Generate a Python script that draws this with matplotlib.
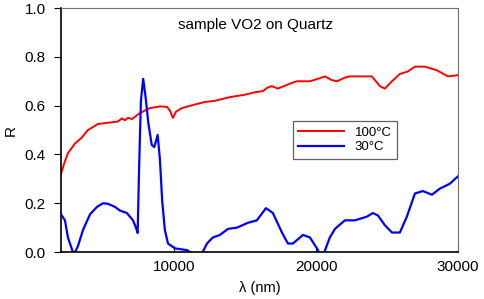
import matplotlib
matplotlib.use('Agg')
import matplotlib.pyplot as plt

plt.rcParams['font.family'] = ['Liberation Sans', 'DejaVu Sans']

# reflectance of the hot (100 C) sample
wl_hot = [2000, 2210, 2490, 2990, 3480, 3900, 4610, 5310, 6020, 6300, 6510, 6730,
          7010, 7570, 8280, 8980, 9480, 9690, 9900, 10110, 10530, 11450, 12160,
          12860, 13920, 14980, 15680, 16250, 16600, 16880, 17300, 18150, 18640,
          19560, 20130, 20620, 21110, 21470, 22030, 22380, 23930, 24220, 24500,
          24850, 25350, 25910, 26470, 26970, 27670, 28520, 29300, 30000]
r_hot = [0.32, 0.36, 0.405, 0.445, 0.47, 0.50, 0.525, 0.53, 0.535, 0.548, 0.54, 0.55,
         0.545, 0.57, 0.59, 0.597, 0.595, 0.58, 0.55, 0.575, 0.59, 0.605, 0.615,
         0.62, 0.635, 0.645, 0.655, 0.66, 0.675, 0.68, 0.67, 0.69, 0.70,
         0.70, 0.71, 0.72, 0.705, 0.70, 0.715, 0.72, 0.72, 0.70, 0.68,
         0.67, 0.70, 0.73, 0.74, 0.76, 0.76, 0.745, 0.72, 0.725]

# reflectance of the cold (30 C) sample
wl_cold = [2000, 2280, 2490, 2780, 2920, 3200, 3550, 4050, 4540, 4960, 5310, 5810,
           6160, 6650, 7080, 7290, 7410, 7500, 7640, 7800, 7970, 8160, 8400, 8580,
           8820, 8980, 9140, 9330, 9550, 10040, 10890, 11100, 11520, 11950, 12300,
           12720, 13210, 13780, 14410, 15190, 15820, 16460, 16950, 17590, 18010,
           18360, 19070, 19560, 20060, 20270, 20550, 20970, 21330, 22030, 22740,
           23580, 24000, 24360, 24850, 25350, 25910, 26400, 26970, 27530, 28170,
           28730, 29430, 30000]
r_cold = [0.155, 0.13, 0.06, 0.01, -0.01, 0.025, 0.09, 0.155, 0.185, 0.20, 0.198, 0.185,
          0.17, 0.16, 0.13, 0.10, 0.078, 0.32, 0.62, 0.71, 0.635, 0.53, 0.44, 0.43,
          0.48, 0.38, 0.21, 0.09, 0.035, 0.015, 0.008, 0.0, -0.01, -0.005, 0.035,
          0.06, 0.07, 0.095, 0.10, 0.12, 0.13, 0.18, 0.16, 0.08, 0.035,
          0.035, 0.07, 0.06, 0.015, -0.01, -0.005, 0.06, 0.095, 0.13, 0.13,
          0.145, 0.16, 0.15, 0.11, 0.08, 0.08, 0.145, 0.24, 0.25, 0.235,
          0.26, 0.28, 0.31]

fig = plt.figure(figsize=(4.84, 2.99), dpi=100)
ax = fig.add_axes([0.126, 0.157, 0.82, 0.816])

ax.plot(wl_hot, r_hot, color='#ff0000', lw=1.4, label='100\u00b0C')
ax.plot(wl_cold, r_cold, color='#0000ff', lw=1.6, label='30\u00b0C')

ax.set_xlim(2000, 30000)
ax.set_ylim(0, 1.0)
ax.set_xticks([10000, 20000, 30000])
ax.set_yticks([0.0, 0.2, 0.4, 0.6, 0.8, 1.0])
ax.set_yticklabels(['0.0', '0.2', '0.4', '0.6', '0.8', '1.0'])
ax.tick_params(axis='x', direction='in', length=4, labelsize=11, pad=6)
ax.tick_params(axis='y', direction='out', length=5, labelsize=11, pad=6)

for s in ['left', 'bottom']:
    ax.spines[s].set_color('black')
    ax.spines[s].set_linewidth(1.2)
for s in ['top', 'right']:
    ax.spines[s].set_color('#707070')
    ax.spines[s].set_linewidth(0.8)

ax.set_xlabel('\u03bb (nm)', fontsize=10.5, labelpad=5)
ax.set_ylabel('R', fontsize=11, labelpad=5)
ax.text(0.49, 0.93, 'sample VO2 on Quartz', transform=ax.transAxes,
        ha='center', va='center', fontsize=11)

leg = ax.legend(loc='upper left', bbox_to_anchor=(0.584, 0.537), fontsize=9.5,
                fancybox=False, framealpha=1, edgecolor='#606060',
                handlelength=3.5, borderpad=0.4, labelspacing=0.2,
                borderaxespad=0)
leg.get_frame().set_linewidth(0.9)

fig.savefig('out.png', dpi=100)
